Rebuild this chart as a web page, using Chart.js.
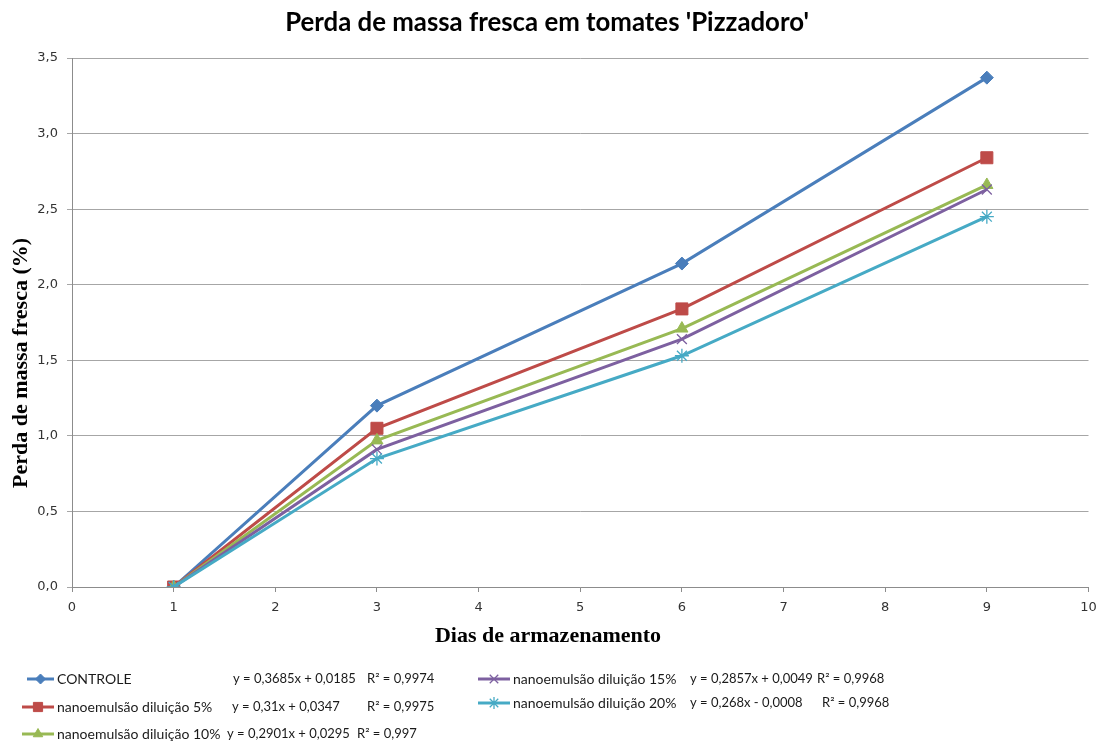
<!DOCTYPE html>
<html>
<head>
<meta charset="utf-8">
<script src="https://cdn.jsdelivr.net/npm/chart.js@4"></script>
<style>
  html, body { margin: 0; padding: 0; background: #fff; }
  #wrap { width: 1098px; height: 742px; position: relative; }
</style>
</head>
<body>
<div id="wrap"><canvas id="chart" width="1098" height="742"></canvas></div>
<script>
// ── Data ──────────────────────────────────────────────────────────────────
const days      = [1, 3, 6, 9];
const controle  = [0, 1.20, 2.14, 3.37];
const dil5      = [0, 1.05, 1.84, 2.84];
const dil10     = [0, 0.97, 1.71, 2.66];
const dil15     = [0, 0.91, 1.64, 2.63];
const dil20     = [0, 0.85, 1.53, 2.45];

const seriesNames = ['CONTROLE', 'nanoemulsão diluição 5%', 'nanoemulsão diluição 10%',
                     'nanoemulsão diluição 15%', 'nanoemulsão diluição 20%'];
const equations   = ['y = 0,3685x + 0,0185', 'y = 0,31x + 0,0347', 'y = 0,2901x + 0,0295',
                     'y = 0,2857x + 0,0049', 'y = 0,268x - 0,0008'];
const r2Values    = ['R² = 0,9974', 'R² = 0,9975', 'R² = 0,997', 'R² = 0,9968', 'R² = 0,9968'];

const chartTitle = "Perda de massa fresca em tomates 'Pizzadoro'";
const xTitle     = 'Dias de armazenamento';
const yTitle     = 'Perda de massa fresca (%)';

// ── Styles ────────────────────────────────────────────────────────────────
const colors  = ['#4A7EBB', '#BE4B48', '#98B954', '#7D60A0', '#46AAC5'];
const markers = [
  { pointStyle: 'rectRot',  radius: 6.5, borderWidth: 1,   legendRadius: 5 },
  { pointStyle: 'rect',     radius: 8.5, borderWidth: 1,   legendRadius: 6.5 },
  { pointStyle: 'triangle', radius: 7,   borderWidth: 1,   legendRadius: 5.5 },
  { pointStyle: 'crossRot', radius: 7,   borderWidth: 1.3, legendRadius: 6 },
  { pointStyle: 'star',     radius: 7,   borderWidth: 1.3, legendRadius: 6 },
];
const seriesValues = [controle, dil5, dil10, dil15, dil20];

const toXY = vals => vals.map((v, i) => ({ x: days[i], y: v }));

const datasets = seriesValues.map((vals, i) => ({
  label           : seriesNames[i],
  data            : toXY(vals),
  borderColor     : colors[i],
  backgroundColor : colors[i],
  borderWidth     : 3,
  pointStyle      : markers[i].pointStyle,
  pointRadius     : markers[i].radius,
  pointBorderWidth: markers[i].borderWidth,
  pointHoverRadius: markers[i].radius,
  tension         : 0,
  order           : 5 - i,
}));

// ── Titles + legend drawn on the canvas ───────────────────────────────────
const decorPlugin = {
  id: 'decor',
  afterDraw(chart) {
    const ctx = chart.ctx;
    ctx.save();
    ctx.fillStyle = '#000';
    ctx.textBaseline = 'middle';

    // main title
    ctx.font = 'bold 25.8px Lato';
    ctx.textAlign = 'center';
    ctx.fillText(chartTitle, 547, 23);

    // axis titles
    ctx.font = 'bold 22px "Liberation Serif"';
    ctx.fillText(xTitle, 548, 636);
    ctx.save();
    ctx.translate(21, 363);
    ctx.rotate(-Math.PI / 2);
    ctx.fillText(yTitle, 0, 0);
    ctx.restore();

    // legend
    const slots = [
      { x: 27,  y: 679, tx: 57,  eq: 233, r2: 367 },
      { x: 22,  y: 707, tx: 57,  eq: 232, r2: 367 },
      { x: 22,  y: 734, tx: 57,  eq: 227, r2: 357 },
      { x: 478, y: 679, tx: 513, eq: 690, r2: 817 },
      { x: 478, y: 703, tx: 513, eq: 690, r2: 822 },
    ];
    ctx.textAlign = 'left';
    slots.forEach((s, i) => {
      const x1 = s.tx - 3;
      ctx.strokeStyle = colors[i];
      ctx.lineWidth = 3;
      ctx.beginPath();
      ctx.moveTo(s.x, s.y);
      ctx.lineTo(x1, s.y);
      ctx.stroke();
      ctx.fillStyle = colors[i];
      ctx.lineWidth = markers[i].borderWidth;
      if (Chart.helpers && Chart.helpers.drawPoint) {
        Chart.helpers.drawPoint(ctx, {
          pointStyle : markers[i].pointStyle,
          radius     : markers[i].legendRadius,
          rotation   : 0,
          borderWidth: markers[i].borderWidth,
        }, (s.x + x1) / 2, s.y);
      }
      ctx.fillStyle = '#1a1a1a';
      ctx.font = '14px Lato';
      ctx.fillText(seriesNames[i], s.tx, s.y);
      ctx.font = '13px Lato';
      ctx.fillText(equations[i], s.eq, s.y);
      ctx.fillText(r2Values[i], s.r2, s.y);
    });
    ctx.restore();
  },
};

// ── Chart ─────────────────────────────────────────────────────────────────
const tickFont = { family: 'DejaVu Sans', size: 13 };

new Chart(document.getElementById('chart').getContext('2d'), {
  type: 'line',
  data: { datasets },
  options: {
    responsive: false,
    animation : false,
    layout    : { padding: { top: 58, right: 0, left: 0, bottom: 0 } },
    plugins   : { legend: { display: false }, tooltip: { enabled: false }, title: { display: false } },
    scales: {
      x: {
        type : 'linear',
        min  : 0,
        max  : 10,
        ticks: { stepSize: 1, color: '#333', font: tickFont, padding: 8 },
        grid : { drawOnChartArea: false, drawTicks: true, tickLength: 5, color: '#8c8c8c' },
        border: { color: '#8c8c8c' },
        afterFit(scale) { scale.height = 155; scale.paddingRight = 7; },
      },
      y: {
        min  : 0,
        max  : 3.5,
        ticks: {
          stepSize: 0.5, color: '#333', font: tickFont, padding: 9,
          callback: v => v.toFixed(1).replace('.', ','),
        },
        grid : { color: '#a6a6a6', tickLength: 5 },
        border: { color: '#8c8c8c' },
        afterFit(scale) { scale.width = 72; },
      },
    },
  },
  plugins: [decorPlugin],
});
</script>
</body>
</html>
